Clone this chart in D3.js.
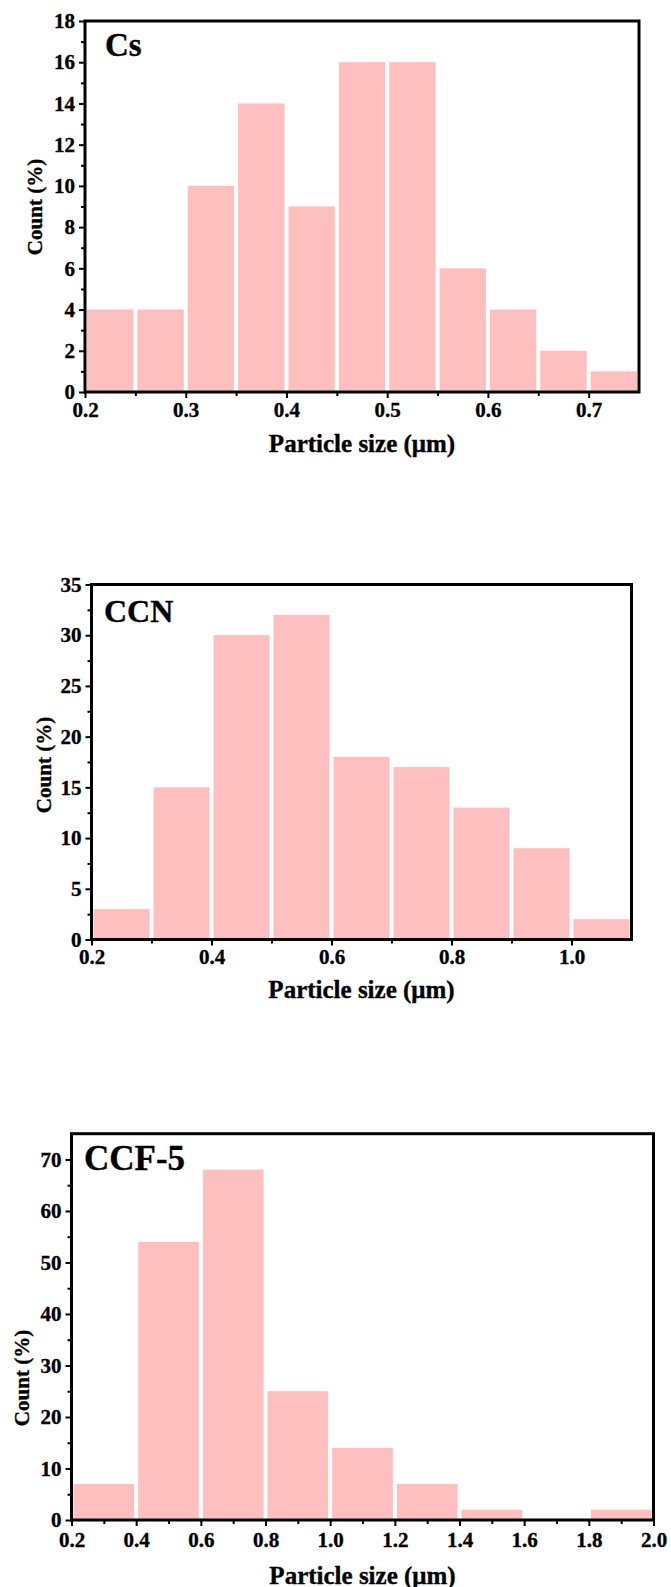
<!DOCTYPE html>
<html>
<head>
<meta charset="utf-8">
<script src="https://cdn.jsdelivr.net/npm/d3@7/dist/d3.min.js"></script>
<style>
  html, body { margin: 0; padding: 0; background: #fff; }
  svg { display: block; }
  text { font-family: "Liberation Serif", "Times New Roman", serif; font-weight: bold; fill: #000; stroke: #000; stroke-width: 0.35px; }
</style>
</head>
<body>
<svg id="chart" width="671" height="1587"></svg>
<script>
// ---------------- DATA ----------------
const csBinStart = [0.20, 0.25, 0.30, 0.35, 0.40, 0.45, 0.50, 0.55, 0.60, 0.65, 0.70];
const csBinWidth = 0.05;
const csCount    = [4, 4, 10, 14, 9, 16, 16, 6, 4, 2, 1];
const csXTicks   = [0.2, 0.3, 0.4, 0.5, 0.6, 0.7];
const csXMinor   = [0.25, 0.35, 0.45, 0.55, 0.65];
const csYTicks   = [0, 2, 4, 6, 8, 10, 12, 14, 16, 18];
const csYMinor   = [1, 3, 5, 7, 9, 11, 13, 15, 17];

const ccnBinStart = [0.2, 0.3, 0.4, 0.5, 0.6, 0.7, 0.8, 0.9, 1.0];
const ccnBinWidth = 0.1;
const ccnCount    = [3, 15, 30, 32, 18, 17, 13, 9, 2];
const ccnXTicks   = [0.2, 0.4, 0.6, 0.8, 1.0];
const ccnXMinor   = [0.3, 0.5, 0.7, 0.9];
const ccnYTicks   = [0, 5, 10, 15, 20, 25, 30, 35];
const ccnYMinor   = [2.5, 7.5, 12.5, 17.5, 22.5, 27.5, 32.5];

const ccfBinStart = [0.2, 0.4, 0.6, 0.8, 1.0, 1.2, 1.4, 1.6, 1.8];
const ccfBinWidth = 0.2;
const ccfCount    = [7, 54, 68, 25, 14, 7, 2, 0, 2];
const ccfXTicks   = [0.2, 0.4, 0.6, 0.8, 1.0, 1.2, 1.4, 1.6, 1.8, 2.0];
const ccfXMinor   = [0.3, 0.5, 0.7, 0.9, 1.1, 1.3, 1.5, 1.7, 1.9];
const ccfYTicks   = [0, 10, 20, 30, 40, 50, 60, 70];
const ccfYMinor   = [5, 15, 25, 35, 45, 55, 65];

const xTitle = "Particle size (\u03bcm)";
const yTitle = "Count (%)";

// ---------------- LAYOUT ----------------
const panels = [
  { name: "Cs", starts: csBinStart, width: csBinWidth, counts: csCount,
    xDomain: [0.2, 0.75], yDomain: [0, 18],
    xTicks: csXTicks, xMinor: csXMinor, yTicks: csYTicks, yMinor: csYMinor,
    left: 85, right: 639, top: 21, bottom: 392,
    xLabPad: 4, xTitleY: 452, yTitleX: 42, yTitleY: 207,
    nameX: 105, nameY: 56, nameSize: 33 },
  { name: "CCN", starts: ccnBinStart, width: ccnBinWidth, counts: ccnCount,
    xDomain: [0.2, 1.1], yDomain: [0, 35],
    xTicks: ccnXTicks, xMinor: ccnXMinor, yTicks: ccnYTicks, yMinor: ccnYMinor,
    left: 91.5, right: 631.5, top: 584.5, bottom: 939.5,
    xLabPad: 4, xTitleY: 998, yTitleX: 51, yTitleY: 765,
    nameX: 104, nameY: 622, nameSize: 32 },
  { name: "CCF-5", starts: ccfBinStart, width: ccfBinWidth, counts: ccfCount,
    xDomain: [0.2, 2.0], yDomain: [0, 75],
    xTicks: ccfXTicks, xMinor: ccfXMinor, yTicks: ccfYTicks, yMinor: ccfYMinor,
    left: 71.5, right: 653.5, top: 1133.7, bottom: 1520,
    xLabPad: 6, xTitleY: 1584, yTitleX: 29, yTitleY: 1378,
    nameX: 84, nameY: 1170, nameSize: 35 }
];

const barColor = "#ffbfbf";
const svg = d3.select("#chart");

function fmt(v) { return d3.format(".1f")(v); }

panels.forEach(p => {
  const x = d3.scaleLinear().domain(p.xDomain).range([p.left, p.right]);
  const y = d3.scaleLinear().domain(p.yDomain).range([p.bottom, p.top]);
  const g = svg.append("g");

  // bars
  const bins = p.starts.map((s, i) => ({ x0: s, x1: s + p.width, v: p.counts[i] }));
  g.selectAll("rect.bar").data(bins).enter().append("rect")
    .attr("class", "bar")
    .attr("x", d => x(d.x0) + 2)
    .attr("width", d => Math.max(0, x(d.x1) - x(d.x0) - 4))
    .attr("y", d => y(d.v))
    .attr("height", d => y(0) - y(d.v))
    .attr("fill", barColor);

  // minor ticks
  const xm = g.append("g").attr("transform", `translate(0,${p.bottom})`)
    .call(d3.axisBottom(x).tickValues(p.xMinor).tickSize(4).tickFormat(""));
  const ym = g.append("g").attr("transform", `translate(${p.left},0)`)
    .call(d3.axisLeft(y).tickValues(p.yMinor).tickSize(4).tickFormat(""));
  [xm, ym].forEach(a => {
    a.select(".domain").remove();
    a.selectAll("line").attr("stroke", "#000").attr("stroke-width", 2);
  });

  // major ticks
  const xa = g.append("g").attr("transform", `translate(0,${p.bottom})`)
    .call(d3.axisBottom(x).tickValues(p.xTicks).tickSize(6).tickPadding(p.xLabPad).tickFormat(fmt));
  const ya = g.append("g").attr("transform", `translate(${p.left},0)`)
    .call(d3.axisLeft(y).tickValues(p.yTicks).tickSize(6).tickPadding(4).tickFormat(d3.format("d")));
  [xa, ya].forEach(a => {
    a.select(".domain").remove();
    a.selectAll("line").attr("stroke", "#000").attr("stroke-width", 2);
    a.selectAll("text").attr("font-size", 21).attr("font-family", null).attr("fill", "#000");
  });

  // frame
  g.append("rect")
    .attr("x", p.left).attr("y", p.top)
    .attr("width", p.right - p.left).attr("height", p.bottom - p.top)
    .attr("fill", "none").attr("stroke", "#000").attr("stroke-width", 3);

  // titles
  g.append("text")
    .attr("transform", `translate(${(p.left + p.right) / 2},${p.xTitleY})`)
    .attr("text-anchor", "middle").attr("font-size", 25)
    .text(xTitle);
  g.append("text")
    .attr("transform", `translate(${p.yTitleX},${p.yTitleY}) rotate(-90)`)
    .attr("text-anchor", "middle").attr("font-size", 21)
    .text(yTitle);

  // panel name
  g.append("text")
    .attr("transform", `translate(${p.nameX},${p.nameY})`)
    .attr("font-size", p.nameSize)
    .text(p.name);
});
</script>
</body>
</html>
